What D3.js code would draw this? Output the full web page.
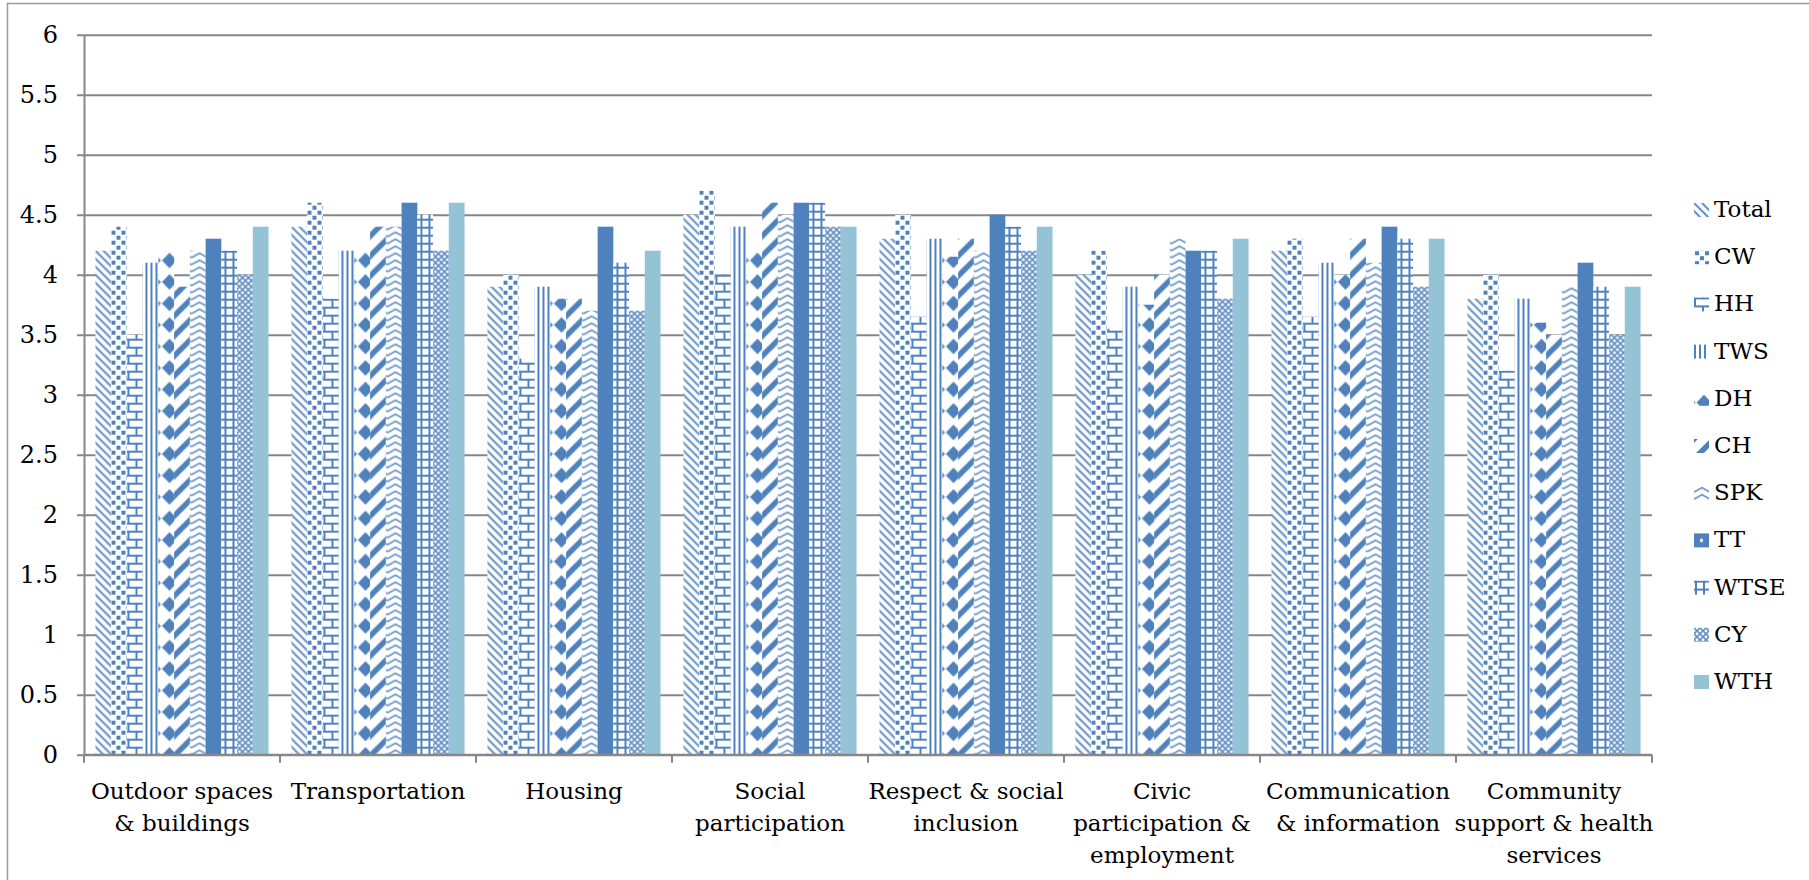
<!DOCTYPE html>
<html>
<head>
<meta charset="utf-8">
<script src="https://cdn.jsdelivr.net/npm/d3@7"></script>
<style>
  body { margin: 0; background: #fff; }
  svg { display: block; }
  text { font-family: "DejaVu Serif", "Liberation Serif", serif; fill: #000; }
  .tick text { font-size: 24px; }
  .cat-label, .legend text { font-size: 23px; }
</style>
</head>
<body>
<svg width="1809" height="880"></svg>
<script>
const categories = ['Outdoor spaces & buildings', 'Transportation', 'Housing', 'Social participation',
  'Respect & social inclusion', 'Civic participation & employment', 'Communication & information',
  'Community support & health services'];
const categoryLines = [['Outdoor spaces', '& buildings'], ['Transportation'], ['Housing'],
  ['Social', 'participation'], ['Respect & social', 'inclusion'], ['Civic', 'participation &', 'employment'],
  ['Communication', '& information'], ['Community', 'support & health', 'services']];
const seriesNames = ['Total', 'CW', 'HH', 'TWS', 'DH', 'CH', 'SPK', 'TT', 'WTSE', 'CY', 'WTH'];
const yTicks = [0, 0.5, 1, 1.5, 2, 2.5, 3, 3.5, 4, 4.5, 5, 5.5, 6];

const total = [4.2, 4.4, 3.9, 4.5, 4.3, 4.0, 4.2, 3.8];
const cw    = [4.4, 4.6, 4.0, 4.7, 4.5, 4.2, 4.3, 4.0];
const hh    = [3.5, 3.8, 3.3, 4.0, 3.65, 3.55, 3.65, 3.2];
const tws   = [4.1, 4.2, 3.9, 4.4, 4.3, 3.9, 4.1, 3.8];
const dh    = [4.2, 4.2, 3.8, 4.2, 4.15, 3.75, 4.0, 3.6];
const ch    = [3.9, 4.4, 3.8, 4.6, 4.3, 4.0, 4.3, 3.5];
const spk   = [4.2, 4.4, 3.7, 4.5, 4.2, 4.3, 4.1, 3.9];
const tt    = [4.3, 4.6, 4.4, 4.6, 4.5, 4.2, 4.4, 4.1];
const wtse  = [4.2, 4.5, 4.1, 4.6, 4.4, 4.2, 4.3, 3.9];
const cy    = [4.0, 4.2, 3.7, 4.4, 4.2, 3.8, 3.9, 3.5];
const wth   = [4.4, 4.6, 4.2, 4.4, 4.4, 4.3, 4.3, 3.9];

(function (d3) {
  'use strict';

  const svg = d3.select('svg');
  const width = +svg.attr('width');
  const height = +svg.attr('height');
  const blue = '#4f81bd';
  const grid = '#878787';
  const serif = '"DejaVu Serif", "Liberation Serif", serif';

  const seriesValues = [total, cw, hh, tws, dh, ch, spk, tt, wtse, cy, wth];
  const rows = categories.map((c, i) => ({
    category: c,
    lines: categoryLines[i],
    bars: seriesNames.map((s, j) => ({ key: s, value: seriesValues[j][i] }))
  }));

  const margin = { top: 34.7, right: 157, bottom: 125.3, left: 84 };
  const innerWidth = width - margin.left - margin.right;
  const innerHeight = height - margin.top - margin.bottom;

  const x0 = d3.scaleBand().domain(categories).range([0, innerWidth])
    .paddingInner(0.117).paddingOuter(0.0585);
  const x1 = d3.scaleBand().domain(seriesNames).range([0, x0.bandwidth()]);
  const y = d3.scaleLinear().domain([0, 6]).range([innerHeight, 0]);

  // patterns, roughly the old Office fills
  const defs = svg.append('defs');
  const pat = (id, w, h, opts) => {
    const p = defs.append('pattern').attr('id', id)
      .attr('patternUnits', 'userSpaceOnUse')
      .attr('width', w).attr('height', h);
    if (opts && opts.x != null) p.attr('x', opts.x);
    p.append('rect').attr('width', w).attr('height', h).attr('fill', (opts && opts.bg) || '#fff');
    return p;
  };
  let p;
  p = pat('p-Total', 8, 8);
  p.append('path').attr('d', 'M-2,-2L10,10M-2,6L2,10M6,-2L10,2')
    .attr('stroke', blue).attr('stroke-width', 2.2).attr('stroke-opacity', 0.85);
  p = pat('p-CW', 10, 10);
  p.append('rect').attr('x', 1).attr('y', 1).attr('width', 4).attr('height', 4).attr('fill', blue);
  p.append('rect').attr('x', 6).attr('y', 6).attr('width', 4).attr('height', 4).attr('fill', blue);
  p = pat('p-HH', 16, 16);
  p.append('path').attr('d', 'M0,1H16M0,9H16M1,1V9M9,9V16')
    .attr('stroke', blue).attr('stroke-width', 2).attr('fill', 'none');
  p = pat('p-TWS', 5, 5);
  p.append('rect').attr('x', 0).attr('width', 2).attr('height', 5).attr('fill', blue);
  p = pat('p-DH', 16, 21.5, { x: 2 });
  p.append('path').attr('d', 'M8,3L15.5,10.75L8,18.5L0.5,10.75Z').attr('fill', blue);
  p = pat('p-CH', 20, 20);
  p.append('path').attr('d', 'M-2,22L22,-2M-12,12L12,-12M8,32L32,8')
    .attr('stroke', blue).attr('stroke-width', 5.5);
  p = pat('p-SPK', 16, 7);
  p.append('path').attr('d', 'M0,6L8,1.5L16,6')
    .attr('stroke', blue).attr('stroke-width', 1.6).attr('fill', 'none').attr('stroke-opacity', 0.85);
  p = pat('p-TT', x0.step(), 21.7, { x: margin.left + x0(categories[0]) + x1('TT'), bg: blue });
  p.append('circle').attr('cx', x1.bandwidth() / 2).attr('cy', 10).attr('r', 1.7).attr('fill', '#fff');
  p = pat('p-TT-legend', 15, 14, { x: 0, bg: blue });
  p.append('circle').attr('cx', 7.5).attr('cy', 7).attr('r', 1.7).attr('fill', '#fff');
  p = pat('p-WTSE', 8, 8, { x: 1 });
  p.append('path').attr('d', 'M0,1H8M1,0V8')
    .attr('stroke', blue).attr('stroke-width', 2).attr('fill', 'none');
  p = pat('p-CY', 6, 6);
  p.append('path').attr('d', 'M0,0L6,6M6,0L0,6')
    .attr('stroke', blue).attr('stroke-width', 1.6).attr('stroke-opacity', 0.9);
  p = pat('p-WTH', 4, 4, { bg: '#93c3d5' });

  const fillFor = k => `url(#p-${k})`;

  // chart frame
  svg.append('path').attr('d', `M7.5,${height}V3.5H${width}`)
    .attr('fill', 'none').attr('stroke', '#9a9a9a').attr('stroke-width', 1.5);

  const g = svg.append('g')
    .attr('transform', `translate(${margin.left},${margin.top})`)
    .attr('font-family', serif);

  const yAxis = d3.axisLeft(y)
    .tickValues(yTicks)
    .tickFormat(d => String(d))
    .tickSize(-innerWidth)
    .tickSizeOuter(0)
    .tickPadding(26);
  const yAxisG = g.append('g').call(yAxis)
    .attr('font-family', serif)
    .attr('font-size', 24);
  yAxisG.selectAll('.tick line').attr('x1', -7).attr('stroke', grid).attr('stroke-width', 2);
  yAxisG.select('.domain').attr('stroke', grid).attr('stroke-width', 2);
  yAxisG.selectAll('.tick text').attr('dy', '0.34em');

  // bars
  const groups = g.selectAll('.group').data(rows)
    .enter().append('g')
      .attr('class', 'group')
      .attr('transform', d => `translate(${x0(d.category)},0)`);

  groups.selectAll('rect').data(d => d.bars)
    .enter().append('rect')
      .attr('x', d => x1(d.key))
      .attr('y', d => y(d.value))
      .attr('width', x1.bandwidth())
      .attr('height', d => innerHeight - y(d.value))
      .attr('fill', d => fillFor(d.key));

  // bottom axis with ticks at category boundaries
  const xAxisG = g.append('g').attr('transform', `translate(0,${innerHeight})`);
  xAxisG.append('line')
    .attr('x1', 0).attr('x2', innerWidth)
    .attr('stroke', grid).attr('stroke-width', 2);
  xAxisG.selectAll('.xtick').data(d3.range(categories.length + 1))
    .enter().append('line')
      .attr('class', 'xtick')
      .attr('x1', i => i * x0.step()).attr('x2', i => i * x0.step())
      .attr('y1', 0).attr('y2', 8)
      .attr('stroke', grid).attr('stroke-width', 2);

  const labels = xAxisG.selectAll('.cat-label').data(rows)
    .enter().append('text')
      .attr('class', 'cat-label')
      .attr('font-family', serif)
      .attr('text-anchor', 'middle')
      .attr('transform', d => `translate(${x0(d.category) + x0.bandwidth() / 2},44)`);
  labels.selectAll('tspan').data(d => d.lines)
    .enter().append('tspan')
      .attr('x', 0)
      .attr('y', (d, i) => i * 32)
      .text(d => d);

  // legend
  const legend = svg.append('g').attr('class', 'legend')
    .attr('font-family', serif)
    .attr('transform', 'translate(1694,203)');
  const item = legend.selectAll('g').data(seriesNames)
    .enter().append('g')
      .attr('transform', (d, i) => `translate(0,${i * 47.2})`);
  item.append('rect')
    .attr('width', 15).attr('height', 14)
    .attr('fill', d => d === 'TT' ? 'url(#p-TT-legend)' : fillFor(d));
  item.append('text')
    .attr('x', 20).attr('y', 14)
    .text(d => d);

}(d3));
</script>
</body>
</html>
